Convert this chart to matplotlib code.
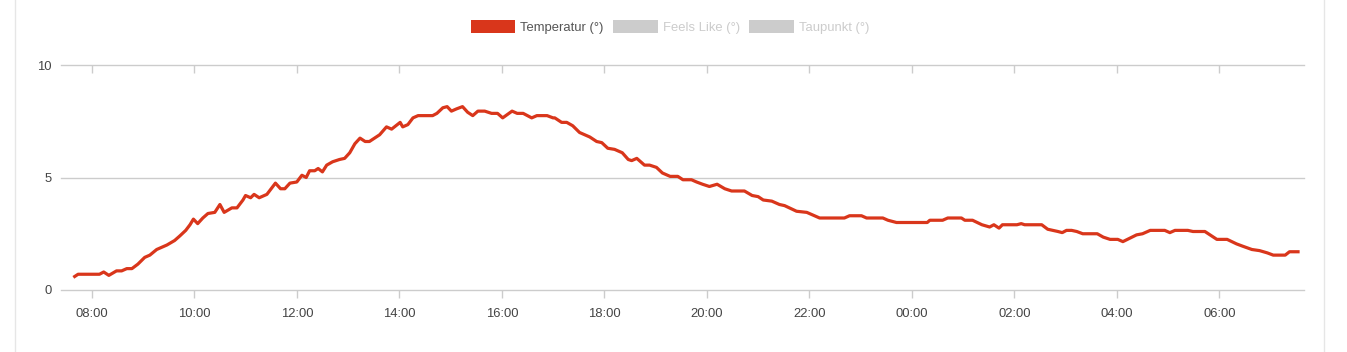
import pandas as pd
import matplotlib
matplotlib.use("Agg")
import matplotlib.pyplot as plt
import matplotlib.dates as mdates
from matplotlib.patches import Patch
from matplotlib.lines import Line2D

plt.rcParams["font.family"] = ["Liberation Sans", "DejaVu Sans"]

# series names shown in the legend (only the first one has data drawn)
series_names = ["Temperatur (°)", "Feels Like (°)", "Taupunkt (°)"]
series_active = [True, False, False]

# readings (clock time, temperature) - the run goes past midnight
times = [
    "07:40", "07:44", "08:09", "08:14", "08:20", "08:29", "08:35", "08:41", "08:47", "08:54",
    "09:02", "09:08", "09:16", "09:28", "09:37", "09:43", "09:50", "09:55", "09:59", "10:04",
    "10:10", "10:16", "10:24", "10:30", "10:35", "10:44", "10:50", "10:57", "11:00", "11:06",
    "11:10", "11:16", "11:25", "11:35", "11:41", "11:46", "11:52", "12:00", "12:06", "12:11",
    "12:15", "12:21", "12:25", "12:30", "12:35", "12:42", "12:50", "12:56", "13:02", "13:08",
    "13:14", "13:20", "13:25", "13:31", "13:37", "13:45", "13:51", "14:01", "14:04", "14:10",
    "14:16", "14:22", "14:39", "14:44", "14:51", "14:56", "15:01", "15:07", "15:14", "15:20",
    "15:26", "15:32", "15:40", "15:48", "15:55", "16:01", "16:12", "16:18", "16:25", "16:35",
    "16:41", "16:53", "17:00", "17:02", "17:10", "17:16", "17:23", "17:31", "17:43", "17:51",
    "17:57", "18:04", "18:12", "18:21", "18:28", "18:32", "18:38", "18:47", "18:53", "19:01",
    "19:08", "19:17", "19:26", "19:32", "19:42", "19:48", "19:55", "20:03", "20:12", "20:21",
    "20:29", "20:44", "20:53", "21:00", "21:06", "21:16", "21:25", "21:31", "21:45", "21:57",
    "22:12", "22:41", "22:47", "23:01", "23:07", "23:26", "23:32", "23:42", "00:18", "00:21",
    "00:36", "00:42", "00:58", "01:02", "01:11", "01:22", "01:31", "01:36", "01:42", "01:46",
    "02:03", "02:08", "02:12", "02:32", "02:39", "02:45", "02:51", "02:56", "03:01", "03:07",
    "03:13", "03:20", "03:37", "03:44", "03:52", "04:01", "04:07", "04:15", "04:23", "04:30",
    "04:39", "04:56", "05:02", "05:08", "05:23", "05:29", "05:43", "05:57", "06:09", "06:20",
    "06:27", "06:38", "06:47", "06:56", "07:03", "07:17", "07:22", "07:32",
]
temperatur = [
    0.6, 0.7, 0.7, 0.8, 0.65, 0.85, 0.85, 0.95, 0.95, 1.15,
    1.45, 1.55, 1.8, 2.0, 2.2, 2.4, 2.65, 2.9, 3.15, 2.95,
    3.2, 3.4, 3.45, 3.8, 3.45, 3.65, 3.65, 4.0, 4.2, 4.1,
    4.25, 4.1, 4.25, 4.75, 4.5, 4.5, 4.75, 4.8, 5.1, 5.0,
    5.3, 5.3, 5.4, 5.25, 5.55, 5.7, 5.8, 5.85, 6.1, 6.5,
    6.75, 6.6, 6.6, 6.75, 6.9, 7.25, 7.15, 7.45, 7.25, 7.35,
    7.65, 7.75, 7.75, 7.85, 8.1, 8.15, 7.95, 8.05, 8.15, 7.9,
    7.75, 7.95, 7.95, 7.85, 7.85, 7.65, 7.95, 7.85, 7.85, 7.65,
    7.75, 7.75, 7.65, 7.65, 7.45, 7.45, 7.3, 7.0, 6.8, 6.6,
    6.55, 6.3, 6.25, 6.1, 5.8, 5.75, 5.85, 5.55, 5.55, 5.45,
    5.2, 5.05, 5.05, 4.9, 4.9, 4.8, 4.7, 4.6, 4.7, 4.5,
    4.4, 4.4, 4.2, 4.15, 4.0, 3.95, 3.8, 3.75, 3.5, 3.45,
    3.2, 3.2, 3.3, 3.3, 3.2, 3.2, 3.1, 3.0, 3.0, 3.1,
    3.1, 3.2, 3.2, 3.1, 3.1, 2.9, 2.8, 2.9, 2.75, 2.9,
    2.9, 2.95, 2.9, 2.9, 2.7, 2.65, 2.6, 2.55, 2.65, 2.65,
    2.6, 2.5, 2.5, 2.35, 2.25, 2.25, 2.15, 2.3, 2.45, 2.5,
    2.65, 2.65, 2.55, 2.65, 2.65, 2.6, 2.6, 2.25, 2.25, 2.05,
    1.95, 1.8, 1.75, 1.65, 1.55, 1.55, 1.7, 1.7,
]

# turn clock times into datetimes, rolling over at midnight
stamps = []
day = pd.Timestamp("2024-01-01")
prev = None
for t in times:
    ts = pd.Timestamp(f"{day.date()} {t}")
    if prev is not None and ts < prev:
        day = day + pd.Timedelta(days=1)
        ts = pd.Timestamp(f"{day.date()} {t}")
    stamps.append(ts)
    prev = ts

red = "#d9361b"
grid_c = "#cccccc"
inactive = "#cccccc"

fig = plt.figure(figsize=(13.47, 3.52), dpi=100)
ax = fig.add_axes([61 / 1347, 1 - 290 / 352, (1304 - 61) / 1347, 225 / 352])

ax.plot(stamps, temperatur, color=red, lw=2.3, solid_joinstyle="round", zorder=3)

ax.set_ylim(0, 10)
ax.set_yticks([0, 5, 10])
ax.set_xlim(pd.Timestamp("2024-01-01 07:24"), pd.Timestamp("2024-01-02 07:39"))
ax.xaxis.set_major_locator(mdates.HourLocator(byhour=range(0, 24, 2)))
ax.xaxis.set_major_formatter(mdates.DateFormatter("%H:%M"))

for s in ax.spines.values():
    s.set_visible(False)
ax.grid(False)
for yv in [0, 5, 10]:
    ax.axhline(yv, color=grid_c, lw=1, zorder=1, clip_on=False)
ax.tick_params(axis="y", length=0, pad=7, labelsize=9.4, labelcolor="#444444")
ax.tick_params(axis="x", bottom=True, top=True, direction="out", length=6,
               color=grid_c, width=1, pad=7, labelsize=9.4, labelcolor="#444444")
for tl in ax.xaxis.get_ticklines()[1::2]:
    tl.set_marker(3)  # top ticks point downwards into the plot

handles = [Patch(facecolor=red if a else inactive, edgecolor="none") for a in series_active]
leg = fig.legend(handles, series_names, loc="center", bbox_to_anchor=(0.4975, 1 - 27 / 352),
                 ncol=3, frameon=False, fontsize=9.4, handlelength=3.4, handleheight=1.15,
                 handletextpad=0.4, columnspacing=0.72)
for txt, a in zip(leg.get_texts(), series_active):
    txt.set_color("#555555" if a else inactive)

# panel borders of the card around the chart
fig.add_artist(Line2D([15 / 1347, 15 / 1347], [0, 1], color="#e6e6e6", lw=1))
fig.add_artist(Line2D([1324 / 1347, 1324 / 1347], [0, 1], color="#e6e6e6", lw=1))

fig.savefig("out.png", dpi=100)
